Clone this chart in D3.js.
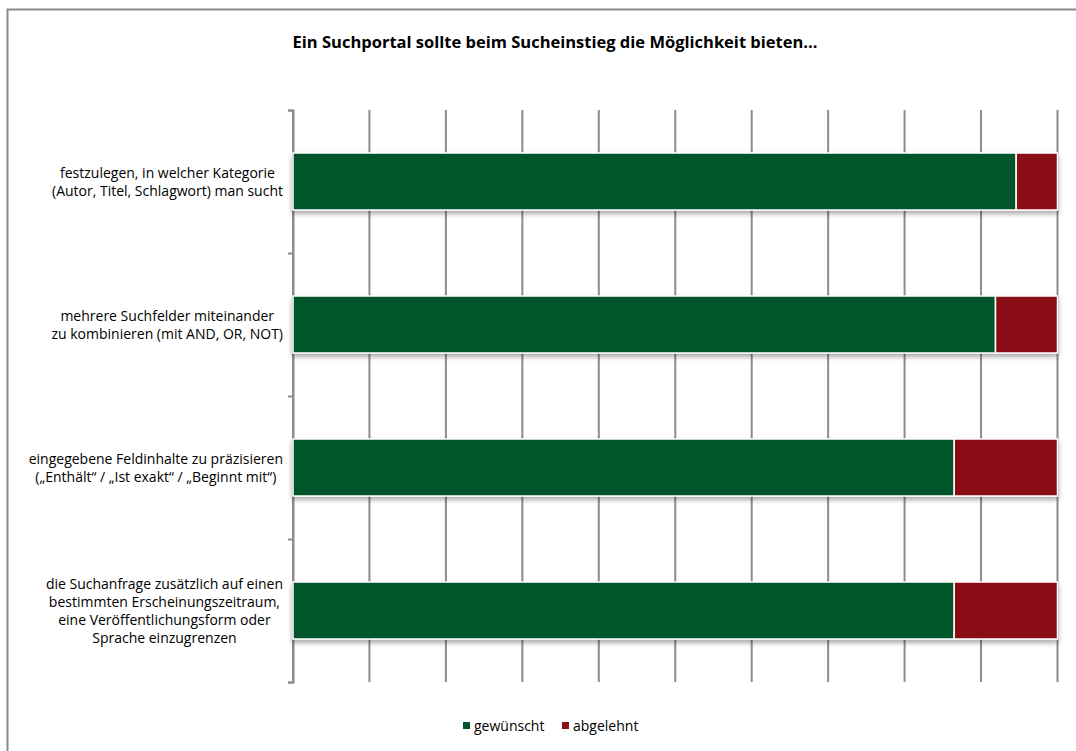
<!DOCTYPE html>
<html>
<head>
<meta charset="utf-8">
<script src="https://cdn.jsdelivr.net/npm/d3@7"></script>
<style>
  html, body { margin: 0; padding: 0; background: #fff; }
  svg { display: block; font-family: "Open Sans", Lato, sans-serif; }
</style>
</head>
<body>
<svg id="chart" width="1076" height="751"></svg>
<script>
// Survey answers (number of respondents), 100 % stacked per statement
const categories = [
  ["festzulegen, in welcher Kategorie", "(Autor, Titel, Schlagwort) man sucht"],
  ["mehrere Suchfelder miteinander", "zu kombinieren (mit AND, OR, NOT)"],
  ["eingegebene Feldinhalte zu präzisieren", "(„Enthält“ / „Ist exakt“ / „Beginnt mit“)"],
  ["die Suchanfrage zusätzlich auf einen", "bestimmten Erscheinungszeitraum,", "eine Veröffentlichungsform oder", "Sprache einzugrenzen"]
];
const gewuenscht = [35, 34, 32, 32];
const abgelehnt  = [2, 3, 5, 5];
const seriesNames = ["gewünscht", "abgelehnt"];
const seriesColors = ["#02552c", "#8a1117"];
const xTicks = [0, 0.1, 0.2, 0.3, 0.4, 0.5, 0.6, 0.7, 0.8, 0.9, 1];
const title = "Ein Suchportal sollte beim Sucheinstieg die Möglichkeit bieten...";

const svg = d3.select("#chart");
const plot = { left: 293, right: 1057.5, top: 110, bottom: 682 };

// outer chart frame
svg.append("rect")
  .attr("x", 7.5).attr("y", 9.5).attr("width", 1090).attr("height", 780)
  .attr("fill", "#fff").attr("stroke", "#8a8a8a").attr("stroke-width", 2);

// title
svg.append("text")
  .attr("x", 555).attr("y", 48)
  .attr("text-anchor", "middle")
  .attr("font-weight", "bold").attr("font-size", 16.5)
  .attr("fill", "#000")
  .text(title);

const rows = categories.map((c, i) => ({ idx: i, gewünscht: gewuenscht[i], abgelehnt: abgelehnt[i] }));
const stacked = d3.stack().keys(seriesNames).offset(d3.stackOffsetExpand)(rows);

const x = d3.scaleLinear().domain([0, 1]).range([plot.left, plot.right]);
const yBand = d3.scaleBand().domain(d3.range(categories.length))
  .range([plot.top, plot.bottom]);

// drop shadow for bars
const defs = svg.append("defs");
const f = defs.append("filter").attr("id", "shadow")
  .attr("x", "-5%").attr("y", "-20%").attr("width", "110%").attr("height", "160%");
f.append("feDropShadow").attr("dx", 0).attr("dy", 3).attr("stdDeviation", 2.5)
  .attr("flood-color", "#000").attr("flood-opacity", 0.35);

// vertical gridlines
svg.append("g").attr("class", "grid")
  .selectAll("line").data(xTicks).join("line")
  .attr("x1", d => x(d)).attr("x2", d => x(d))
  .attr("y1", plot.top).attr("y2", plot.bottom)
  .attr("stroke", "#8c8c8c").attr("stroke-width", 2);

// category axis with ticks between categories
const yAxisScale = d3.scaleLinear().domain([0, categories.length]).range([plot.top, plot.bottom]);
const yAxis = d3.axisLeft(yAxisScale).tickValues(d3.range(categories.length + 1))
  .tickSize(5).tickFormat("");
svg.append("g").attr("transform", `translate(${plot.left},0)`).call(yAxis)
  .call(g => g.selectAll("path, line").attr("stroke", "#8c8c8c").attr("stroke-width", 2));

// bars
const barH = 57;
const barGroup = svg.append("g").attr("filter", "url(#shadow)");
stacked.forEach((s, si) => {
  barGroup.append("g").selectAll("rect").data(s).join("rect")
    .attr("x", d => x(d[0]))
    .attr("width", d => x(d[1]) - x(d[0]))
    .attr("y", (d, i) => yBand(i) + yBand.bandwidth() / 2 - barH / 2)
    .attr("height", barH)
    .attr("fill", seriesColors[si])
    .attr("stroke", "#fff").attr("stroke-width", 1.5);
});

// category labels: multi-line, lines centered in a block that is right-aligned to the axis
const lineH = 18;
const labelRight = 283;
categories.forEach((lines, i) => {
  const cy = yBand(i) + yBand.bandwidth() / 2;
  const g = svg.append("g");
  const texts = g.selectAll("text").data(lines).join("text")
    .attr("font-size", 14).attr("fill", "#000")
    .attr("text-anchor", "middle")
    .attr("y", (d, k) => cy + (k - (lines.length - 1) / 2) * lineH + 5)
    .text(d => d);
  const maxW = d3.max(texts.nodes(), n => n.getComputedTextLength());
  texts.attr("x", labelRight - maxW / 2);
});

// legend
const legendItems = [
  { name: seriesNames[0], color: seriesColors[0], x: 463 },
  { name: seriesNames[1], color: seriesColors[1], x: 562 }
];
const lg = svg.append("g");
legendItems.forEach(it => {
  lg.append("rect").attr("x", it.x).attr("y", 722).attr("width", 7).attr("height", 7).attr("fill", it.color);
  lg.append("text").attr("x", it.x + 11).attr("y", 731).attr("font-size", 14).attr("fill", "#000").text(it.name);
});
</script>
</body>
</html>
